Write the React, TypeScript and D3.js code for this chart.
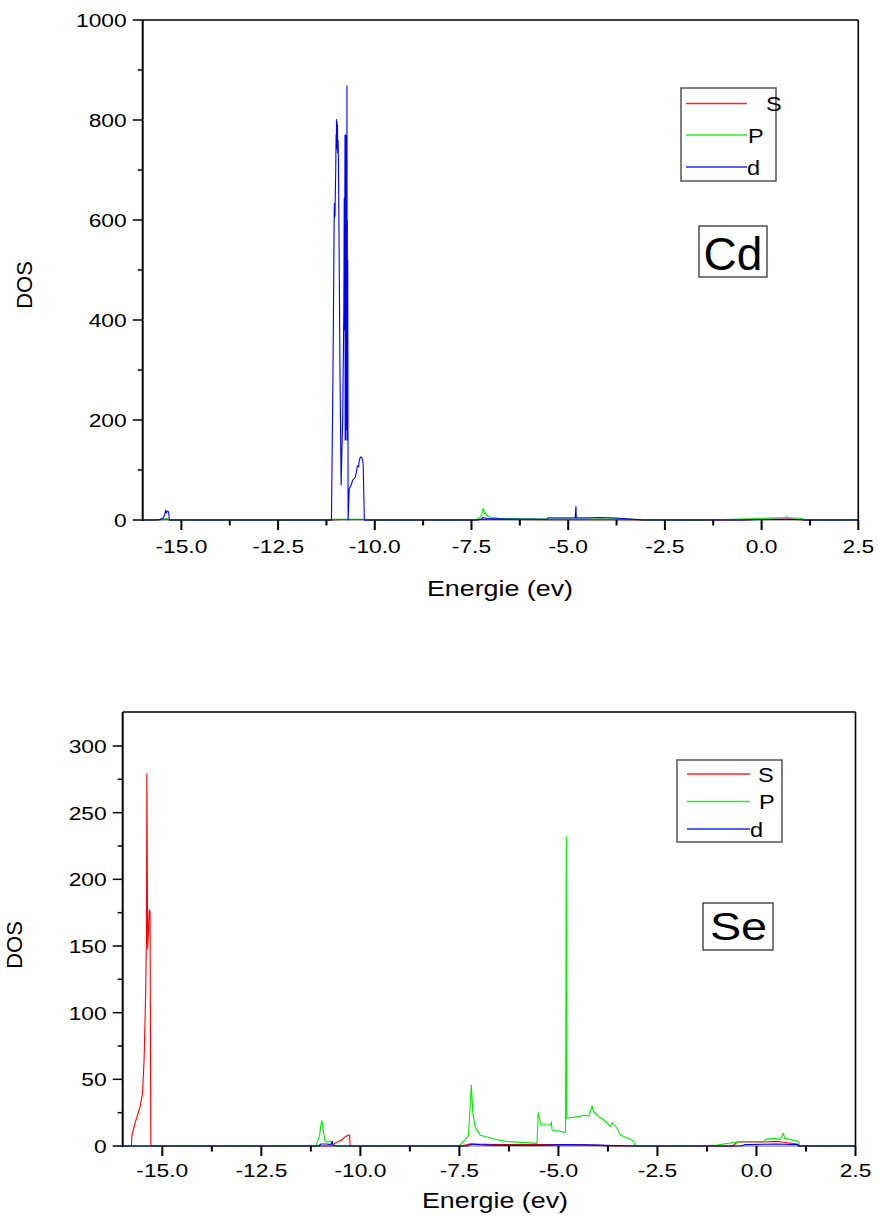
import React from "react";
import * as d3 from "d3";

// ---------- DATA ----------
const xTicks = [-15.0, -12.5, -10.0, -7.5, -5.0, -2.5, 0.0, 2.5];
const xMinorTicks = [-13.75, -11.25, -8.75, -6.25, -3.75, -1.25, 1.25];
const cdYTicks = [0, 200, 400, 600, 800, 1000];
const cdYMinor = [100, 300, 500, 700, 900];
const seYTicks = [0, 50, 100, 150, 200, 250, 300];
const seYMinor = [25, 75, 125, 175, 225, 275];
const seriesNames = ["S", "P", "d"];

const cdS: [number, number][] = [[-16,0],[-15.6,0],[-15.45,1.5],[-15.35,2],[-15.3,0],[-11.1,0],[-10.9,1],[-10.3,1],[-10.25,0],[-7.4,0],[-7.2,1.5],[-6.5,1],[-5.5,0.5],[-3.5,0.5],[-3,0],[-0.5,0],[0,1.5],[0.7,2],[1.1,0],[2.5,0]];
const cdP: [number, number][] = [[-16,0],[-15.65,0],[-15.5,1],[-15.38,3],[-15.3,0],[-11.12,0],[-11.1,1.5],[-10.25,1.5],[-10.22,0],[-7.45,0],[-7.3,3],[-7.24,10],[-7.2,23],[-7.16,14],[-7.05,6],[-6.8,3.5],[-6.3,2.5],[-5.55,2],[-5.52,4],[-4.8,4],[-4.2,4.5],[-3.6,3],[-3.1,0.5],[-3.05,0],[-1.6,0],[-1,1],[-0.3,2.5],[0.3,4],[0.6,5],[0.64,6.6],[0.68,5],[1.05,3],[1.09,0],[2.5,0]];
const cdD: [number, number][] = [[-16,0],[-15.7,0],[-15.55,1],[-15.47,4],[-15.43,10],[-15.41,20],[-15.39,14],[-15.36,18],[-15.33,16],[-15.31,0],[-11.12,0],[-11.08,300],[-11.05,603],[-11.045,633],[-11.04,605],[-11.035,630],[-11.03,608],[-11.01,700],[-11.0,770],[-10.995,740],[-10.99,801],[-10.985,760],[-10.975,796],[-10.97,745],[-10.965,790],[-10.96,735],[-10.95,760],[-10.94,723],[-10.92,520],[-10.9,300],[-10.87,70],[-10.85,140],[-10.83,200],[-10.8,420],[-10.79,643],[-10.785,380],[-10.78,640],[-10.775,600],[-10.77,770],[-10.765,160],[-10.76,640],[-10.755,250],[-10.75,770],[-10.745,160],[-10.74,620],[-10.735,200],[-10.73,760],[-10.725,300],[-10.72,868],[-10.715,180],[-10.71,600],[-10.705,160],[-10.7,520],[-10.695,300],[-10.69,0],[-10.66,63],[-10.62,68],[-10.57,80],[-10.5,86],[-10.45,108],[-10.42,106],[-10.4,120],[-10.37,126],[-10.33,124],[-10.3,112],[-10.27,0],[-7.35,0],[-7.25,2],[-7.2,5],[-7.1,3],[-6.5,2],[-5.55,1.5],[-5.52,4],[-4.82,4],[-4.8,27],[-4.79,4],[-4.5,4],[-4.2,5],[-3.8,4],[-3.4,2],[-3.07,0],[-0.5,0],[0,1],[0.6,1.5],[1.05,1],[1.1,0],[2.5,0]];

const seS: [number, number][] = [[-16,0],[-15.78,0],[-15.77,7.5],[-15.69,17],[-15.56,29.5],[-15.5,39.5],[-15.46,64.5],[-15.44,89.5],[-15.42,114.5],[-15.41,139.5],[-15.4,154.5],[-15.39,279],[-15.37,148],[-15.35,160],[-15.33,177],[-15.31,176],[-15.29,0],[-10.7,0],[-10.65,2],[-10.55,3.3],[-10.47,4.5],[-10.38,7],[-10.3,8.2],[-10.27,8],[-10.26,0],[-7.45,0],[-7.25,1.5],[-6.5,1],[-5.5,1],[-4.5,1],[-3.9,0.5],[-3.8,0],[-0.6,0],[-0.48,3],[0.2,3],[0.5,3.5],[0.65,3],[1.03,1.5],[1.05,0],[2.5,0]];
const seP: [number, number][] = [[-16,0],[-11.12,0],[-11.11,1],[-11.03,8],[-10.99,17],[-10.97,19],[-10.94,12],[-10.89,3.3],[-10.8,3],[-10.75,3.5],[-10.72,1],[-10.68,0],[-7.5,0],[-7.48,1],[-7.35,5],[-7.27,8],[-7.2,45.7],[-7.16,24.5],[-7.1,14],[-6.97,8],[-6.6,5],[-6.3,3.3],[-5.54,2],[-5.51,25],[-5.44,15.7],[-5.2,15.7],[-5.18,18],[-5.16,12],[-4.82,10.2],[-4.8,232],[-4.79,20.8],[-4.5,22],[-4.36,23],[-4.23,22.5],[-4.15,30],[-4.11,25.7],[-3.98,22],[-3.85,19.5],[-3.68,14.5],[-3.64,17.5],[-3.52,13.3],[-3.43,8.2],[-3.1,3.7],[-3.07,0],[-1.55,0],[-1.0,0.7],[-0.4,3.3],[0.19,3.3],[0.23,5],[0.44,5.7],[0.61,5],[0.68,9.5],[0.71,5.7],[1.07,3.3],[1.09,0],[2.5,0]];
const seD: [number, number][] = [[-16,0],[-11.05,0],[-11.0,1.5],[-10.85,1.5],[-10.75,1],[-10.71,3.5],[-10.69,0.5],[-10.6,0],[-7.3,0],[-7.2,1.5],[-7.0,1],[-6.5,0.5],[-5.5,0.5],[-4.8,1],[-4.0,0.8],[-3.1,0],[-0.4,0],[-0.3,1],[0.5,1.5],[1.05,1],[1.08,0],[2.5,0]];

// ---------- STYLE ----------
const COLORS = ["#ff0000", "#00ee00", "#0000ff"];
const FONT = "'Liberation Sans', Arial, sans-serif";

type PanelProps = {
  left: number; right: number; top: number; bottom: number;
  yMax: number; yTicks: number[]; yMinor: number[];
  series: [number, number][][];
  label: string;
  labelBox: { x: number; y: number; w: number; h: number; tx: number; ty: number; fs: number; sx: number };
  legend: { x: number; y: number; w: number; h: number; lineX1: number; lineX2: number; rows: number[]; textX: number[] };
  yTitleX: number; yTitleY: number;
  xLabelY: number; xTitleY: number; xTitleX: number;
};

const Stretch = ({ x, y, sx, anchor, fs, children }: any) => (
  <text
    transform={`translate(${x},${y}) scale(${sx},1)`}
    textAnchor={anchor}
    fontSize={fs}
    fontFamily={FONT}
    fill="#000"
  >
    {children}
  </text>
);

function Panel(p: PanelProps) {
  const x = d3.scaleLinear().domain([-16, 2.5]).range([p.left, p.right]);
  const y = d3.scaleLinear().domain([0, p.yMax]).range([p.bottom, p.top]);
  const line = d3.line<[number, number]>().x((d) => x(d[0])).y((d) => y(d[1]));
  const fmt = (v: number) => v.toFixed(1);
  return (
    <g>
      {p.series.map((s, i) => (
        <path key={i} d={line(s) || ""} fill="none" stroke={COLORS[i]} strokeWidth={1.1} strokeLinejoin="round" />
      ))}
      {/* frame */}
      <line x1={p.left} x2={p.right} y1={p.top} y2={p.top} stroke="#000" strokeWidth={1.3} />
      <line x1={p.right} x2={p.right} y1={p.top} y2={p.bottom} stroke="#000" strokeWidth={1.6} />
      <line x1={p.left} x2={p.left} y1={p.top} y2={p.bottom + 1} stroke="#000" strokeWidth={2} />
      <line x1={p.left} x2={p.right} y1={p.bottom} y2={p.bottom} stroke="#000" strokeWidth={1.2} opacity={0.6} />
      {/* x ticks */}
      {xTicks.map((t) => (
        <g key={"xt" + t}>
          <line x1={x(t)} x2={x(t)} y1={p.bottom} y2={p.bottom + 10} stroke="#000" strokeWidth={2} />
          <Stretch x={x(t)} y={p.xLabelY} sx={1.2} anchor="middle" fs={19}>{fmt(t)}</Stretch>
        </g>
      ))}
      {xMinorTicks.map((t) => (
        <line key={"xm" + t} x1={x(t)} x2={x(t)} y1={p.bottom} y2={p.bottom + 5.5} stroke="#000" strokeWidth={2} />
      ))}
      {/* y ticks */}
      {p.yTicks.map((t) => (
        <g key={"yt" + t}>
          <line x1={p.left - 10} x2={p.left} y1={y(t)} y2={y(t)} stroke="#000" strokeWidth={1.5} />
          <Stretch x={p.left - 16} y={y(t) + 7} sx={1.2} anchor="end" fs={19}>{String(t)}</Stretch>
        </g>
      ))}
      {p.yMinor.map((t) => (
        <line key={"ym" + t} x1={p.left - 5} x2={p.left} y1={y(t)} y2={y(t)} stroke="#000" strokeWidth={1.5} />
      ))}
      {/* titles */}
      <text
        transform={`translate(${p.yTitleX},${p.yTitleY}) rotate(-90)`}
        textAnchor="middle"
        fontSize={22}
        fontFamily={FONT}
      >
        DOS
      </text>
      <Stretch x={p.xTitleX} y={p.xTitleY} sx={1.22} anchor="middle" fs={22}>Energie (ev)</Stretch>
      {/* legend */}
      <rect x={p.legend.x} y={p.legend.y} width={p.legend.w} height={p.legend.h} fill="#fff" stroke="#555" strokeWidth={1.5} />
      {seriesNames.map((n, i) => (
        <g key={n}>
          <line x1={p.legend.lineX1} x2={p.legend.lineX2} y1={p.legend.rows[i]} y2={p.legend.rows[i]} stroke={COLORS[i]} strokeWidth={1.3} opacity={0.85} />
          <Stretch x={p.legend.textX[i]} y={p.legend.rows[i] + 7.5} sx={1.12} anchor="start" fs={21}>{n}</Stretch>
        </g>
      ))}
      {/* element label */}
      <rect x={p.labelBox.x} y={p.labelBox.y} width={p.labelBox.w} height={p.labelBox.h} fill="#fff" stroke="#222" strokeWidth={1.2} />
      <Stretch x={p.labelBox.tx} y={p.labelBox.ty} sx={p.labelBox.sx} anchor="middle" fs={p.labelBox.fs}>{p.label}</Stretch>
    </g>
  );
}

export default function App() {
  return (
    <svg
      width={880}
      height={1218}
      style={{ position: "absolute", left: 0, top: 0, display: "block", background: "#fff" }}
    >
      <rect x={0} y={0} width={880} height={1218} fill="#fff" />
      <Panel
        left={142.7} right={858.3} top={20} bottom={520}
        yMax={1000} yTicks={cdYTicks} yMinor={cdYMinor}
        series={[cdS, cdP, cdD]}
        label="Cd"
        labelBox={{ x: 699, y: 226, w: 68, h: 51, tx: 733, ty: 270, fs: 46, sx: 1 }}
        legend={{ x: 681, y: 88, w: 95, h: 93, lineX1: 686, lineX2: 747, rows: [103.5, 135, 167], textX: [766, 748, 747] }}
        yTitleX={32} yTitleY={285}
        xLabelY={553} xTitleY={596} xTitleX={500}
        />
      <Panel
        left={122.7} right={855.5} top={712} bottom={1146}
        yMax={325.5} yTicks={seYTicks} yMinor={seYMinor}
        series={[seS, seP, seD]}
        label="Se"
        labelBox={{ x: 703, y: 903, w: 70, h: 47, tx: 738.5, ty: 940, fs: 39, sx: 1.2 }}
        legend={{ x: 677, y: 760, w: 105, h: 82, lineX1: 687, lineX2: 750, rows: [774, 801.5, 829], textX: [758, 759, 750] }}
        yTitleX={22} yTitleY={945}
        xLabelY={1177} xTitleY={1208} xTitleX={495}
      />
    </svg>
  );
}
